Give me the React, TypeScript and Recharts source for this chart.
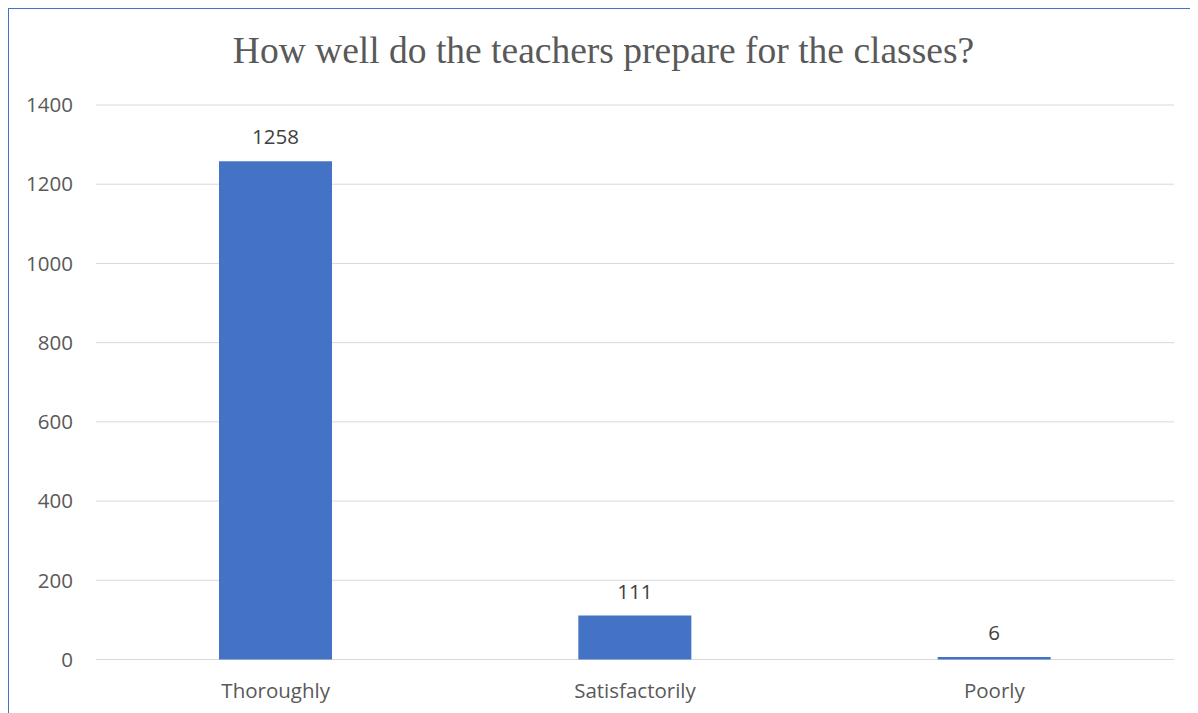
import { Bar, BarChart, CartesianGrid, LabelList, XAxis, YAxis } from "recharts";

const categories = ["Thoroughly", "Satisfactorily", "Poorly"];
const answers = [1258, 111, 6];
const yTicks = [0, 200, 400, 600, 800, 1000, 1200, 1400];

const data = categories.map((name, i) => ({ name, value: answers[i] }));

const labelFont = "'Open Sans', 'Noto Sans', sans-serif";

export default function App() {
  return (
    <div
      style={{
        position: "relative",
        width: 1189,
        height: 704,
        borderTop: "1px solid #4472C4",
        borderLeft: "1px solid #4472C4",
        background: "#fff",
        overflow: "hidden",
      }}
    >
      <div
        style={{
          position: "absolute",
          left: 0,
          right: 0,
          top: 22.5,
          textAlign: "center",
          fontFamily: "'Liberation Serif', 'Times New Roman', serif",
          fontSize: 37.5,
          lineHeight: "37.5px",
          color: "#595959",
        }}
      >
        How well do the teachers prepare for the classes?
      </div>
      <BarChart
        width={1189}
        height={704}
        data={data}
        margin={{ top: 96, right: 24, left: 0, bottom: 13.5 }}
      >
        <CartesianGrid vertical={false} stroke="#d9d9d9" strokeWidth={1} />
        <XAxis
          dataKey="name"
          axisLine={false}
          tickLine={false}
          tickSize={0}
          tickMargin={23.5}
          height={40}
          tick={{ fontSize: 20.5, fill: "#595959", fontFamily: labelFont }}
        />
        <YAxis
          domain={[0, 1400]}
          ticks={yTicks}
          axisLine={false}
          tickLine={false}
          tickSize={0}
          tickMargin={23}
          width={87}
          tick={{ fontSize: 20.5, fill: "#595959", fontFamily: labelFont }}
        />
        <Bar dataKey="value" fill="#4472C4" barSize={113} isAnimationActive={false}>
          <LabelList
            dataKey="value"
            position="top"
            offset={17}
            style={{ fontSize: 20.5, fill: "#404040", fontFamily: labelFont }}
          />
        </Bar>
      </BarChart>
    </div>
  );
}
